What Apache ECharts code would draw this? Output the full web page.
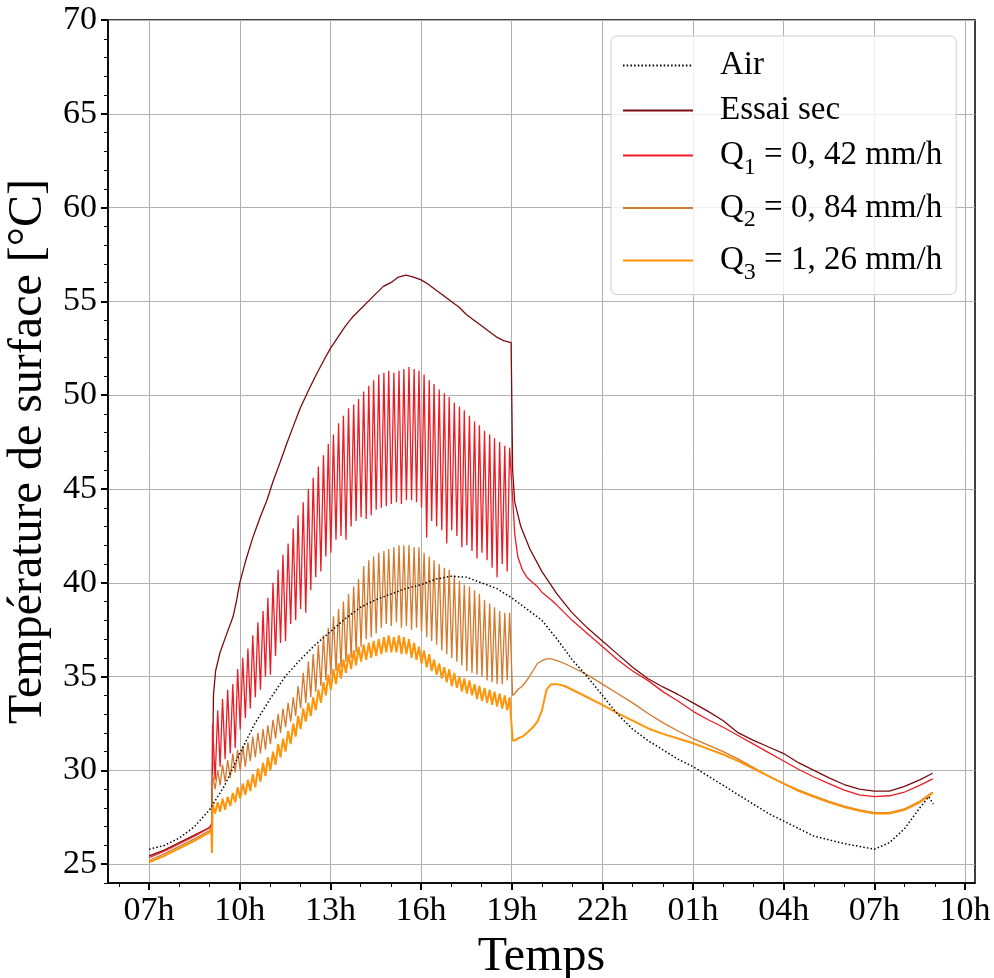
<!DOCTYPE html>
<html>
<head>
<meta charset="utf-8">
<script src="https://cdn.jsdelivr.net/npm/echarts@6/dist/echarts.min.js"></script>
<style>
  html, body { margin: 0; padding: 0; background: #fff; }
  #main { width: 994px; height: 978px; }
</style>
</head>
<body>
<div id="main"></div>
<script>
// time in decimal hours from 00h of day 1 (25 = 01h next day)
const hourTicks = [7, 10, 13, 16, 19, 22, 25, 28, 31, 34];
const tempTicks = [25, 30, 35, 40, 45, 50, 55, 60, 65, 70];

const airTime = [7.0, 7.5, 8.0, 8.5, 9.0, 9.5, 10.0, 10.5, 11.0, 11.5, 12.0, 12.5, 13.0, 13.5, 14.0, 14.5, 15.0, 15.5, 16.0, 16.5, 17.0, 17.5, 18.0, 18.5, 19.0, 19.5, 20.0, 20.5, 21.0, 21.5, 22.0, 22.5, 23.0, 23.5, 24.0, 24.5, 25.0, 25.5, 26.0, 26.5, 27.0, 27.5, 28.0, 28.5, 29.0, 29.5, 30.0, 30.5, 31.0, 31.5, 32.0, 32.5, 32.8, 32.95];
const airTemp = [25.8, 26.0, 26.4, 27.0, 27.9, 29.2, 30.9, 32.5, 33.8, 35.0, 35.9, 36.7, 37.4, 38.1, 38.7, 39.1, 39.4, 39.7, 39.9, 40.2, 40.35, 40.3, 40.0, 39.7, 39.2, 38.6, 38.0, 37.0, 35.9, 35.0, 34.0, 33.0, 32.2, 31.6, 31.1, 30.6, 30.2, 29.7, 29.2, 28.7, 28.2, 27.7, 27.3, 26.9, 26.5, 26.3, 26.1, 25.95, 25.8, 26.15, 26.9, 28.0, 28.6, 28.2];

const secTime = [7.0, 7.5, 8.0, 8.5, 9.0, 9.08, 9.11, 9.13, 9.2, 9.35, 9.55, 9.78, 9.9, 10.0, 10.2, 10.45, 10.7, 10.9, 11.1, 11.33, 11.55, 11.76, 12.0, 12.23, 12.5, 12.76, 13.0, 13.25, 13.5, 13.75, 14.0, 14.25, 14.5, 14.75, 15.0, 15.25, 15.5, 15.75, 16.0, 16.25, 16.5, 16.75, 17.0, 17.25, 17.5, 17.75, 18.0, 18.25, 18.5, 18.75, 18.98, 19.01, 19.03, 19.1, 19.3, 19.6, 20.0, 20.5, 21.0, 21.5, 22.0, 22.5, 23.0, 23.5, 24.0, 24.5, 25.0, 25.5, 26.0, 26.5, 27.0, 27.5, 28.0, 28.5, 29.0, 29.5, 30.0, 30.5, 31.0, 31.5, 32.0, 32.5, 32.93];
const secTemp = [25.45, 25.75, 26.15, 26.55, 26.95, 27.1, 31.5, 34.0, 35.3, 36.3, 37.2, 38.2, 39.1, 40.0, 41.2, 42.5, 43.6, 44.4, 45.4, 46.4, 47.4, 48.3, 49.3, 50.1, 51.0, 51.8, 52.5, 53.1, 53.7, 54.2, 54.6, 55.0, 55.4, 55.8, 56.0, 56.3, 56.4, 56.3, 56.15, 55.9, 55.6, 55.3, 55.0, 54.7, 54.3, 54.0, 53.7, 53.4, 53.1, 52.9, 52.8, 52.9, 46.0, 44.3, 43.0, 41.8, 40.6, 39.4, 38.4, 37.6, 36.9, 36.2, 35.5, 34.9, 34.45, 34.05, 33.6, 33.15, 32.65, 32.0, 31.6, 31.25, 30.9, 30.4, 30.0, 29.6, 29.25, 29.0, 28.9, 28.9, 29.15, 29.5, 29.85];

// sprinkling cycles (one peak per cycle, trough between two peaks)
const cycleTimes = [9.10, 9.27, 9.43, 9.60, 9.77, 9.93, 10.10, 10.27, 10.43, 10.60, 10.77, 10.93, 11.10, 11.27, 11.43, 11.60, 11.77, 11.93, 12.10, 12.27, 12.43, 12.60, 12.77, 12.93, 13.10, 13.27, 13.43, 13.60, 13.77, 13.93, 14.10, 14.27, 14.43, 14.60, 14.77, 14.93, 15.10, 15.27, 15.43, 15.60, 15.77, 15.93, 16.10, 16.27, 16.43, 16.60, 16.77, 16.93, 17.10, 17.27, 17.43, 17.60, 17.77, 17.93, 18.10, 18.27, 18.43, 18.60, 18.77, 18.93];

const preTime = [7.0, 7.5, 8.0, 8.5, 9.0, 9.07];
const q3PreTime = [7.0, 7.5, 8.0, 8.5, 9.0, 9.06, 9.08];
const postTime = [19.03, 19.1, 19.2, 19.35, 19.5, 19.7, 19.85, 20.0, 20.15, 20.3, 20.5, 20.75, 21.0, 21.5, 22.0, 22.5, 23.0, 23.5, 24.0, 24.5, 25.0, 25.5, 26.0, 26.5, 27.0, 27.5, 28.0, 28.5, 29.0, 29.5, 30.0, 30.5, 31.0, 31.5, 32.0, 32.5, 32.93];

const q1Pre = [25.35, 25.7, 26.1, 26.5, 26.95, 27.2];
const q1Peak = [32.5, 33.2, 33.8, 34.3, 34.6, 35.4, 36.0, 36.5, 37.2, 37.9, 38.5, 39.2, 40.0, 40.7, 41.5, 42.1, 42.9, 43.6, 44.3, 45.0, 45.6, 46.2, 46.8, 47.4, 47.9, 48.5, 48.9, 49.3, 49.5, 49.8, 50.2, 50.5, 50.8, 51.1, 51.2, 51.3, 51.2, 51.3, 51.4, 51.5, 51.4, 51.3, 51.1, 50.8, 50.6, 50.3, 50.1, 49.9, 49.6, 49.4, 49.2, 48.9, 48.6, 48.4, 48.1, 47.9, 47.7, 47.5, 47.3, 47.2];
const q1Trough = [29.5, 30.2, 30.6, 30.9, 31.2, 32.2, 32.8, 33.3, 33.9, 34.3, 35.0, 35.1, 36.1, 36.8, 36.9, 37.8, 38.0, 38.6, 38.4, 39.6, 40.3, 40.6, 41.4, 41.6, 42.3, 42.5, 42.3, 43.0, 43.3, 43.5, 43.4, 43.6, 43.9, 44.0, 44.1, 44.2, 44.3, 44.2, 44.4, 44.4, 44.3, 44.0, 42.4, 43.3, 43.0, 42.8, 42.1, 42.8, 42.5, 41.9, 42.0, 41.7, 41.3, 41.6, 41.2, 40.8, 40.3, 41.0, 40.6];
const q1Post = [44.5, 42.6, 41.4, 40.7, 40.3, 40.0, 39.8, 39.5, 39.3, 39.1, 38.8, 38.4, 38.0, 37.3, 36.6, 35.9, 35.3, 34.8, 34.2, 33.7, 33.15, 32.7, 32.3, 31.85, 31.4, 30.95, 30.5, 30.05, 29.65, 29.3, 28.95, 28.7, 28.6, 28.65, 28.85, 29.2, 29.55];

const q2Pre = [25.2, 25.55, 25.95, 26.35, 26.8, 27.0];
const q2Peak = [29.8, 30.0, 30.3, 30.55, 30.9, 31.1, 31.3, 31.5, 31.8, 32.0, 32.2, 32.4, 32.7, 33.0, 33.3, 33.6, 33.9, 34.5, 35.2, 35.8, 36.2, 36.7, 37.2, 37.6, 38.2, 38.6, 39.0, 39.4, 39.8, 40.2, 40.9, 41.2, 41.4, 41.6, 41.7, 41.8, 41.9, 42.0, 42.0, 42.0, 41.9, 41.9, 41.6, 41.4, 41.2, 41.0, 40.8, 40.7, 40.4, 40.1, 39.9, 39.8, 39.6, 39.4, 39.1, 38.9, 38.7, 38.5, 38.4, 38.4];
const q2Trough = [29.0, 29.2, 29.4, 29.6, 29.9, 30.0, 30.2, 30.5, 30.7, 30.9, 31.1, 31.4, 31.7, 32.0, 32.3, 32.6, 32.9, 33.3, 33.6, 33.9, 34.2, 34.5, 34.8, 35.1, 35.3, 35.5, 35.8, 36.0, 36.3, 36.6, 37.0, 37.1, 37.3, 37.6, 37.8, 37.7, 37.9, 37.6, 37.7, 37.5, 37.6, 37.4, 37.1, 36.9, 36.7, 36.4, 36.2, 36.0, 35.8, 35.6, 35.3, 35.2, 35.1, 35.0, 34.8, 34.7, 34.6, 34.6, 34.8];
const q2Post = [34.0, 34.1, 34.3, 34.5, 34.8, 35.3, 35.7, 35.85, 35.95, 35.95, 35.85, 35.7, 35.5, 35.1, 34.6, 34.1, 33.6, 33.05, 32.55, 32.1, 31.7, 31.35, 31.0, 30.6, 30.15, 29.7, 29.3, 28.95, 28.65, 28.35, 28.1, 27.9, 27.75, 27.75, 27.95, 28.35, 28.85];

const q3Pre = [25.1, 25.45, 25.85, 26.25, 26.7, 26.9, 25.6];
const q3Peak = [28.2, 28.3, 28.5, 28.6, 28.8, 29.1, 29.3, 29.5, 29.8, 30.1, 30.4, 30.7, 31.0, 31.4, 31.7, 32.1, 32.5, 32.9, 33.3, 33.6, 33.9, 34.3, 34.7, 35.1, 35.4, 35.7, 35.9, 36.2, 36.4, 36.6, 36.7, 36.8, 36.9, 37.0, 37.1, 37.2, 37.1, 37.2, 37.1, 37.0, 36.8, 36.6, 36.4, 36.2, 35.9, 35.7, 35.5, 35.4, 35.2, 35.0, 34.9, 34.8, 34.6, 34.5, 34.4, 34.3, 34.2, 34.1, 34.0, 33.9];
const q3Trough = [27.7, 27.8, 27.9, 28.1, 28.3, 28.5, 28.7, 28.9, 29.1, 29.4, 29.7, 30.0, 30.3, 30.7, 31.0, 31.4, 31.8, 32.2, 32.6, 32.9, 33.2, 33.6, 34.0, 34.3, 34.6, 34.9, 35.2, 35.4, 35.6, 35.8, 35.9, 36.0, 36.1, 36.2, 36.3, 36.3, 36.3, 36.2, 36.2, 36.0, 35.9, 35.7, 35.5, 35.3, 35.1, 34.9, 34.7, 34.5, 34.4, 34.2, 34.1, 34.0, 33.8, 33.7, 33.6, 33.5, 33.4, 33.3, 33.2];
const q3Post = [31.6, 31.6, 31.7, 31.8, 32.0, 32.3, 32.6, 33.2, 34.3, 34.6, 34.6, 34.5, 34.3, 33.9, 33.5, 33.05, 32.65, 32.25, 31.95, 31.7, 31.45, 31.15, 30.85, 30.5, 30.1, 29.7, 29.3, 28.9, 28.6, 28.3, 28.05, 27.85, 27.7, 27.7, 27.9, 28.3, 28.8];

const seriesNames = ['Air', 'Essai sec', 'Q1 = 0, 42 mm/h', 'Q2 = 0, 84 mm/h', 'Q3 = 1, 26 mm/h'];
const legendRich = {
  'Air': '{g| }{t|Air}',
  'Essai sec': '{g| }{t|Essai sec}',
  'Q1 = 0, 42 mm/h': '{g| }{t|Q}{s|1}{t| = 0, 42 mm/h}',
  'Q2 = 0, 84 mm/h': '{g| }{t|Q}{s|2}{t| = 0, 84 mm/h}',
  'Q3 = 1, 26 mm/h': '{g| }{t|Q}{s|3}{t| = 1, 26 mm/h}'
};
const colors = ['#000000', '#7a0c10', '#ec1c24', '#d4782c', '#ff9408'];

const FONT = 'Liberation Serif, Times New Roman, serif';

function zip(ts, vs) {
  return ts.map((t, i) => [t, vs[i]]);
}

function buildCycled(pT, pV, peak, trough, postV) {
  const out = zip(pT, pV);
  cycleTimes.forEach((t, i) => {
    out.push([t, peak[i]]);
    if (i < trough.length) out.push([(t + cycleTimes[i + 1]) / 2, trough[i]]);
  });
  return out.concat(zip(postTime, postV));
}

function hourLabel(v) {
  const h = ((Math.round(v) % 24) + 24) % 24;
  return (h < 10 ? '0' : '') + h + 'h';
}

const minorHours = [];
for (let h = 6; h <= 34; h++) minorHours.push(h);
const minorTemps = [];
for (let v = 24; v <= 70; v++) minorTemps.push(v);

window.onload = function () {
  const chart = echarts.init(document.getElementById('main'), null, { renderer: 'canvas' });

  const lineSeries = (name, data, color, extra) => Object.assign({
    name: name,
    type: 'line',
    data: data,
    showSymbol: false,
    symbol: 'none',
    smooth: false,
    animation: false,
    lineStyle: { color: color, width: 1.3 },
    itemStyle: { color: color }
  }, extra || {});

  const option = {
    animation: false,
    backgroundColor: '#fff',
    grid: {
      left: 108, right: 19, top: 20, bottom: 95,
      show: true, borderColor: '#000', borderWidth: 1.5,
      backgroundColor: 'transparent',
      outerBoundsMode: 'none'
    },
    legend: {
      orient: 'vertical',
      left: 611, top: 36,
      padding: [13, 14, 10, 11],
      itemWidth: 70, itemHeight: 14, itemGap: 12,
      backgroundColor: 'rgba(255,255,255,0.8)',
      borderColor: '#cccccc', borderWidth: 1, borderRadius: 6,
      itemStyle: { opacity: 0 },
      data: seriesNames,
      formatter: name => legendRich[name],
      textStyle: {
        fontFamily: FONT, fontSize: 33, color: '#000',
        rich: {
          g: { width: 22 },
          t: { fontFamily: FONT, fontSize: 33, color: '#000', lineHeight: 48, verticalAlign: 'middle' },
          s: { fontFamily: FONT, fontSize: 24, color: '#000', lineHeight: 26, verticalAlign: 'bottom' }
        }
      }
    },
    xAxis: [{
      type: 'value', min: 5.64, max: 34.33,
      axisLine: { show: true, lineStyle: { color: '#000', width: 1.5 } },
      axisTick: { show: true, customValues: hourTicks, length: 7, lineStyle: { color: '#000', width: 2 } },
      axisLabel: { customValues: hourTicks, formatter: hourLabel, fontFamily: FONT, fontSize: 34, color: '#000', margin: 11 },
      splitLine: { show: true, lineStyle: { color: '#b0b0b0', width: 1 } },
      name: 'Temps', nameLocation: 'middle', nameGap: 40,
      nameTextStyle: { fontFamily: FONT, fontSize: 48, color: '#000' }
    }, {
      type: 'value', min: 5.64, max: 34.33, position: 'bottom',
      axisLine: { show: false },
      axisTick: { show: true, customValues: minorHours, length: 4, lineStyle: { color: '#000', width: 1 } },
      axisLabel: { show: false },
      splitLine: { show: false }
    }],
    yAxis: [{
      type: 'value', min: 24, max: 70,
      axisLine: { show: true, lineStyle: { color: '#000', width: 1.5 } },
      axisTick: { show: true, customValues: tempTicks, length: 7, lineStyle: { color: '#000', width: 2 } },
      axisLabel: { customValues: tempTicks, fontFamily: FONT, fontSize: 34, color: '#000', margin: 11 },
      splitLine: { show: true, lineStyle: { color: '#b0b0b0', width: 1 } },
      name: 'Température de surface [°C]', nameLocation: 'middle', nameGap: 50,
      nameTextStyle: { fontFamily: FONT, fontSize: 48, color: '#000' }
    }, {
      type: 'value', min: 24, max: 70, position: 'left',
      axisLine: { show: false },
      axisTick: { show: true, customValues: minorTemps, length: 4, lineStyle: { color: '#000', width: 1 } },
      axisLabel: { show: false },
      splitLine: { show: false }
    }],
    series: [
      lineSeries(seriesNames[0], zip(airTime, airTemp), colors[0], {
        z: 5, lineStyle: { color: colors[0], width: 1.5, type: [1.5, 2.2] }
      }),
      lineSeries(seriesNames[1], zip(secTime, secTemp), colors[1]),
      lineSeries(seriesNames[2], buildCycled(preTime, q1Pre, q1Peak, q1Trough, q1Post), colors[2]),
      lineSeries(seriesNames[3], buildCycled(preTime, q2Pre, q2Peak, q2Trough, q2Post), colors[3]),
      lineSeries(seriesNames[4], buildCycled(q3PreTime, q3Pre, q3Peak, q3Trough, q3Post), colors[4], {
        lineStyle: { color: colors[4], width: 2 }
      })
    ]
  };

  chart.setOption(option);
};
</script>
</body>
</html>
